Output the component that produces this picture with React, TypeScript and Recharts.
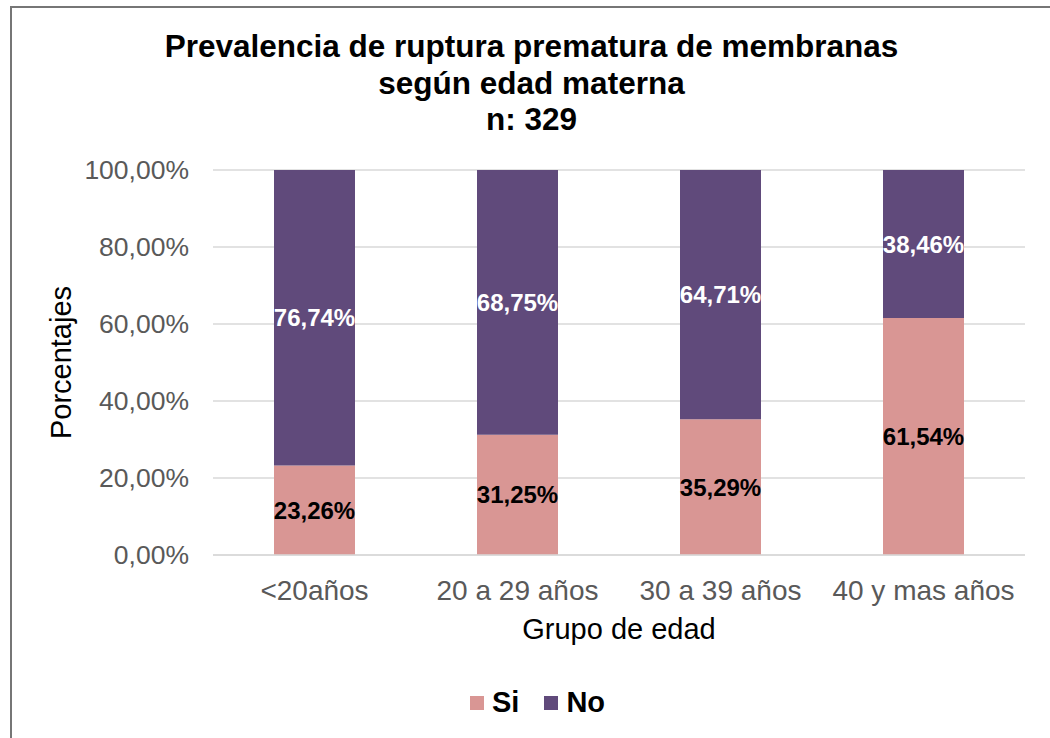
import React from "react";
import { BarChart, Bar, XAxis, YAxis, CartesianGrid, LabelList, Label } from "recharts";

// Grupo de edad materna
const grupos = ["<20años", "20 a 29 años", "30 a 39 años", "40 y mas años"];
// Porcentaje con ruptura prematura (Si) / sin ruptura (No)
const si = [23.26, 31.25, 35.29, 61.54];
const no = [76.74, 68.75, 64.71, 38.46];
const yTicks = [0, 20, 40, 60, 80, 100];
const titulo = ["Prevalencia de ruptura prematura de membranas", "según edad materna", "n: 329"];

const series = [
  { key: "si", name: "Si", color: "#D99694", text: "#000000" },
  { key: "no", name: "No", color: "#604A7B", text: "#FFFFFF" },
];

const data = grupos.map((g, i) => ({ grupo: g, si: si[i], no: no[i] }));

const pct = (v: number) => v.toFixed(2).replace(".", ",") + "%";

export default function App() {
  return (
    <div
      style={{
        position: "absolute",
        left: 0,
        top: 0,
        width: 1050,
        height: 738,
        overflow: "hidden",
        background: "#fff",
        fontFamily: "'Liberation Sans', Arial, sans-serif",
      }}
    >
      <div
        style={{
          position: "absolute",
          left: 10,
          top: 6,
          width: 1100,
          height: 800,
          border: "2px solid #767676",
        }}
      />
      <div
        style={{
          position: "absolute",
          left: 0,
          top: 28,
          width: 1063,
          textAlign: "center",
          fontWeight: "bold",
          fontSize: 31.5,
          lineHeight: "36.5px",
          color: "#000",
        }}
      >
        {titulo.map((t) => (
          <div key={t}>{t}</div>
        ))}
      </div>
      <div style={{ position: "absolute", left: 0, top: 0 }}>
        <BarChart
          width={1050}
          height={738}
          data={data}
          margin={{ top: 170, right: 25, bottom: 123, left: 0 }}
        >
          <CartesianGrid vertical={false} stroke="#D9D9D9" strokeWidth={1.5} />
          <XAxis
            dataKey="grupo"
            height={60}
            tickLine={false}
            tickSize={0}
            tickMargin={25}
            axisLine={{ stroke: "#D9D9D9", strokeWidth: 1.5 }}
            tick={{ fill: "#595959", fontSize: 28 }}
          >
            <Label value="Grupo de edad" position="insideBottom" offset={-24} fill="#000" fontSize={29} />
          </XAxis>
          <YAxis
            width={213}
            domain={[0, 100]}
            ticks={yTicks}
            tickFormatter={pct}
            axisLine={false}
            tickLine={false}
            tickSize={0}
            tickMargin={24}
            tick={{ fill: "#595959", fontSize: 26.5 }}
          >
            <Label
              value="Porcentajes"
              angle={-90}
              position="insideLeft"
              offset={61}
              fill="#000"
              fontSize={29}
              style={{ textAnchor: "middle" }}
            />
          </YAxis>
          {series.map((s) => (
            <Bar
              key={s.key}
              dataKey={s.key}
              name={s.name}
              stackId="a"
              fill={s.color}
              barSize={81}
              isAnimationActive={false}
            >
              <LabelList
                dataKey={s.key}
                position="center"
                formatter={(v: any) => pct(Number(v))}
                fill={s.text}
                fontWeight="bold"
                fontSize={24}
              />
            </Bar>
          ))}
        </BarChart>
      </div>
      <div
        style={{
          position: "absolute",
          left: 470,
          top: 686,
          display: "flex",
          alignItems: "center",
          fontWeight: "bold",
          fontSize: 29,
          lineHeight: "33px",
          color: "#000",
        }}
      >
        {series.map((s) => (
          <div key={s.key} style={{ display: "flex", alignItems: "center", marginRight: 25 }}>
            <span style={{ width: 14, height: 14, background: s.color, marginRight: 8 }} />
            <span>{s.name}</span>
          </div>
        ))}
      </div>
    </div>
  );
}
